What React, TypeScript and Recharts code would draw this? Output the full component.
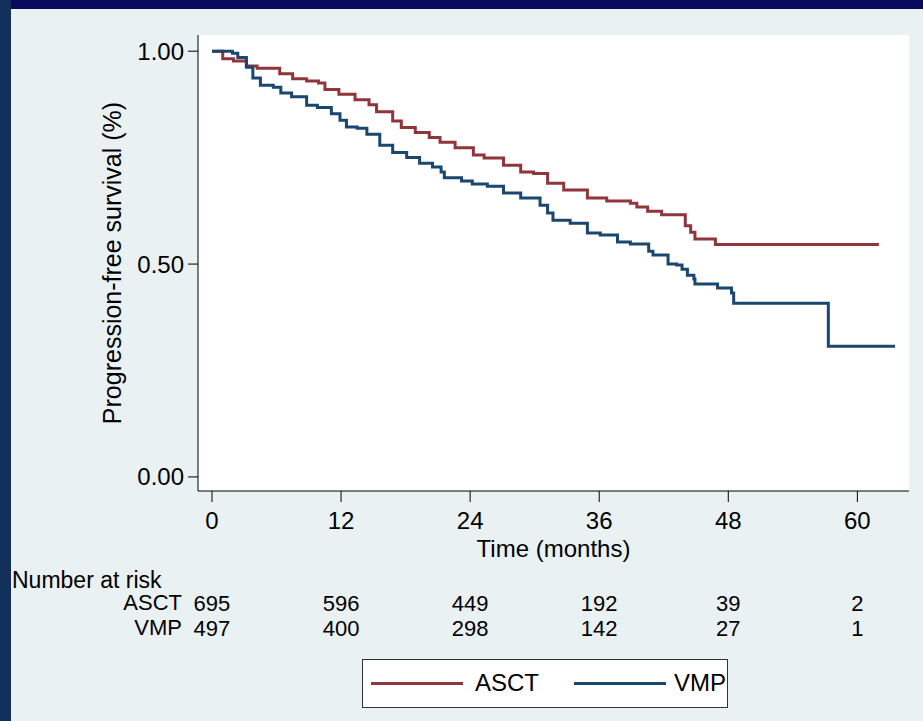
import React from "react";
import { LineChart, Line, XAxis, YAxis, CartesianGrid } from "recharts";

// Kaplan-Meier step points (months, survival fraction)
const asctTime = [0, 1.0, 2.0, 3.2, 4.2, 6.3, 7.5, 8.8, 9.9, 10.5, 11.8, 13.3, 14.6, 15.3, 16.8, 17.6, 18.9, 20.2, 21.2, 22.6, 24.3, 25.3, 27.1, 28.7, 29.9, 31.2, 32.7, 34.9, 36.7, 38.9, 39.5, 40.5, 41.8, 44.0, 44.5, 44.9, 46.8, 62.0];
const asctSurv = [1.0, 0.982, 0.977, 0.965, 0.96, 0.947, 0.935, 0.93, 0.925, 0.91, 0.899, 0.886, 0.874, 0.858, 0.836, 0.821, 0.809, 0.797, 0.786, 0.773, 0.756, 0.749, 0.732, 0.716, 0.713, 0.69, 0.674, 0.655, 0.648, 0.643, 0.634, 0.624, 0.616, 0.59, 0.575, 0.559, 0.546, 0.546];

const vmpTime = [0, 1.9, 2.4, 3.2, 3.8, 4.5, 5.7, 6.4, 7.4, 8.8, 9.8, 11.1, 11.9, 12.5, 13.5, 14.4, 15.6, 16.8, 18.1, 19.3, 20.5, 21.3, 21.6, 23.2, 24.2, 25.6, 27.1, 28.7, 30.5, 31.2, 31.7, 33.3, 34.9, 36.1, 37.7, 38.9, 40.6, 41.0, 42.4, 43.2, 43.7, 44.2, 44.8, 44.9, 47.0, 48.3, 48.5, 57.3, 63.5];
const vmpSurv = [1.0, 0.995, 0.985, 0.962, 0.937, 0.92, 0.915, 0.902, 0.893, 0.873, 0.868, 0.853, 0.838, 0.822, 0.819, 0.805, 0.779, 0.762, 0.75, 0.737, 0.728, 0.716, 0.703, 0.695, 0.688, 0.683, 0.667, 0.655, 0.638, 0.62, 0.603, 0.596, 0.573, 0.568, 0.552, 0.547, 0.53, 0.521, 0.5, 0.498, 0.488, 0.474, 0.465, 0.453, 0.444, 0.432, 0.408, 0.307, 0.307];

const timeTicks = [0, 12, 24, 36, 48, 60];
const survTicks = [0, 0.5, 1];
const riskAsct = [695, 596, 449, 192, 39, 2];
const riskVmp = [497, 400, 298, 142, 27, 1];

const asctData = asctTime.map((t, i) => ({ t, s: asctSurv[i] }));
const vmpData = vmpTime.map((t, i) => ({ t, s: vmpSurv[i] }));

const RED = "#90353b";
const BLUE = "#1a476f";
const FONT = "'Liberation Sans', Arial, sans-serif";
const FS = 24;
const RISK_FS = 22;

// time tick label plus the number-at-risk rows below it
function TimeTick(props: any) {
  const { x, y, payload } = props;
  const i = timeTicks.indexOf(payload.value);
  return (
    <g fill="#000" textAnchor="middle">
      <text x={x} y={y} dy="0.71em" fontSize={FS}>{payload.value}</text>
      <text x={x} y={y + 99} fontSize={RISK_FS}>{riskAsct[i]}</text>
      <text x={x} y={y + 124} fontSize={RISK_FS}>{riskVmp[i]}</text>
    </g>
  );
}

export default function App() {
  return (
    <div
      style={{
        position: "fixed",
        left: 0,
        top: 0,
        width: 923,
        height: 721,
        background: "#eaf1f3",
        fontFamily: FONT,
        overflow: "hidden",
      }}
    >
      <div style={{ position: "absolute", left: 0, top: 0, width: 923, height: 9, background: "#0a0a5c" }} />
      <div style={{ position: "absolute", left: 0, top: 0, width: 11, height: 721, background: "#13305a" }} />

      <LineChart width={923} height={721} margin={{ top: 35, right: 14, left: 0, bottom: 160 }}>
        <CartesianGrid horizontal={false} vertical={false} fill="#ffffff" />
        <XAxis
          type="number"
          dataKey="t"
          domain={[-1.3, 64.8]}
          ticks={timeTicks}
          height={70}
          stroke="#000"
          tickSize={11}
          tickMargin={10}
          tick={<TimeTick />}
          label={{ value: "Time (months)", position: "center", dy: 22, fill: "#000", fontSize: FS }}
        />
        <YAxis
          type="number"
          dataKey="s"
          domain={[-0.033, 1.038]}
          ticks={survTicks}
          width={198}
          stroke="#000"
          tickSize={10}
          tickMargin={4}
          tickFormatter={(v: number) => v.toFixed(2)}
          tick={{ fill: "#000", fontSize: FS }}
          label={{
            value: "Progression-free survival (%)",
            angle: -90,
            position: "center",
            dx: 13,
            fill: "#000",
            fontSize: 25,
          }}
        />
        <Line
          data={asctData}
          dataKey="s"
          type="stepAfter"
          stroke={RED}
          strokeWidth={3}
          dot={false}
          isAnimationActive={false}
        />
        <Line
          data={vmpData}
          dataKey="s"
          type="stepAfter"
          stroke={BLUE}
          strokeWidth={3}
          dot={false}
          isAnimationActive={false}
        />
      </LineChart>

      <div style={{ position: "absolute", left: 12, top: 569, fontSize: RISK_FS + 1, lineHeight: "22px" }}>Number at risk</div>
      <div style={{ position: "absolute", left: 60, width: 122, textAlign: "right", top: 593, fontSize: RISK_FS, lineHeight: "20px" }}>ASCT</div>
      <div style={{ position: "absolute", left: 60, width: 122, textAlign: "right", top: 618, fontSize: RISK_FS, lineHeight: "20px" }}>VMP</div>

      <div
        style={{
          position: "absolute",
          left: 362,
          top: 659,
          width: 366,
          height: 49,
          background: "#fff",
          border: "1px solid #333",
          boxSizing: "border-box",
          fontSize: FS,
        }}
      >
        <div style={{ position: "absolute", left: 8, top: 22, width: 92, height: 3, background: RED }} />
        <div style={{ position: "absolute", left: 112, top: 10, lineHeight: "26px" }}>ASCT</div>
        <div style={{ position: "absolute", left: 211, top: 22, width: 92, height: 3, background: BLUE }} />
        <div style={{ position: "absolute", left: 311, top: 10, lineHeight: "26px" }}>VMP</div>
      </div>
    </div>
  );
}
